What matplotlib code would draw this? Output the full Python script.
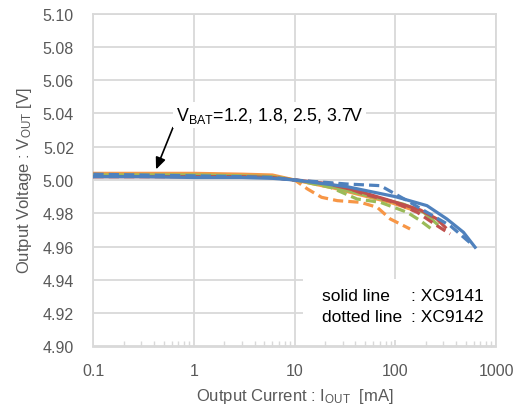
import matplotlib
matplotlib.use("Agg")
import matplotlib.pyplot as plt
from matplotlib.patches import Rectangle
from matplotlib.ticker import FixedLocator, FixedFormatter, LogLocator, NullFormatter

plt.rcParams['font.family'] = ['Liberation Sans', 'DejaVu Sans']
plt.rcParams['mathtext.fontset'] = 'custom'
plt.rcParams['mathtext.rm'] = 'Liberation Sans'
plt.rcParams['mathtext.it'] = 'Liberation Sans:italic'

# ---- data ----
# XC9141 (solid)
i_solid_orange = [0.1, 0.3, 1, 3, 6, 10, 15.5, 25, 48, 90, 150]
v_solid_orange = [5.004, 5.004, 5.004, 5.0035, 5.003, 5.000, 4.9976, 4.995, 4.9906, 4.9865, 4.982]
i_solid_green = [0.1, 0.3, 1, 3, 6, 10, 20, 60, 120, 191, 259]
v_solid_green = [5.003, 5.003, 5.003, 5.0025, 5.002, 5.000, 4.997, 4.9898, 4.9855, 4.9806, 4.9736]
i_solid_red = [0.1, 0.3, 1, 3, 6, 10, 20, 41.6, 89, 177, 259, 313]
v_solid_red = [5.002, 5.002, 5.002, 5.002, 5.0015, 5.000, 4.998, 4.9936, 4.9876, 4.982, 4.9766, 4.9716]
i_solid_blue = [0.1, 0.3, 1, 3, 6, 10, 33, 100, 206, 325, 475, 620]
v_solid_blue = [5.002, 5.002, 5.0015, 5.0015, 5.001, 5.000, 4.996, 4.990, 4.9846, 4.9766, 4.9686, 4.9596]

# XC9142 (dotted)
i_dash_orange = [0.1, 0.3, 1, 3, 6, 10, 13.4, 18.5, 26.5, 45, 66, 89, 140]
v_dash_orange = [5.003, 5.003, 5.003, 5.003, 5.002, 5.000, 4.9946, 4.9896, 4.9876, 4.9866, 4.9836, 4.9766, 4.9706]
i_dash_green = [0.1, 0.3, 1, 3, 6, 10, 22.7, 41.6, 71, 131, 177, 240]
v_dash_green = [5.003, 5.003, 5.003, 5.0025, 5.002, 5.000, 4.9956, 4.9886, 4.9866, 4.9806, 4.9756, 4.9696]
i_dash_red = [0.1, 0.3, 1, 3, 6, 10, 26.5, 48.5, 98, 165, 259, 350]
v_dash_red = [5.002, 5.002, 5.002, 5.002, 5.0015, 5.000, 4.9976, 4.9916, 4.9866, 4.9806, 4.9726, 4.9676]
i_dash_blue = [0.1, 0.3, 1, 3, 6, 10, 33, 71, 131, 206, 350, 595]
v_dash_blue = [5.0035, 5.003, 5.0025, 5.002, 5.0015, 5.000, 4.9976, 4.9966, 4.9876, 4.9806, 4.9726, 4.9606]

x_ticks = [0.1, 1, 10, 100, 1000]
x_tick_labels = ['0.1', '1', '10', '100', '1000']
y_ticks = [4.90, 4.92, 4.94, 4.96, 4.98, 5.00, 5.02, 5.04, 5.06, 5.08, 5.10]

BLUE = '#4F81BD'
RED = '#C0504D'
GREEN = '#9BBB59'
ORANGE = '#F79646'

W, H = 521, 410
fig = plt.figure(figsize=(W / 100, H / 100), dpi=100)
L, R, T, B = 93.4, 496, 14.5, 347.5
ax = fig.add_axes([L / W, 1 - B / H, (R - L) / W, (B - T) / H])

lw = 2.3
dash = (0, (3.2, 1.6))
ax.plot(i_solid_orange, v_solid_orange, color=ORANGE, lw=lw, zorder=3)
ax.plot(i_solid_green, v_solid_green, color=GREEN, lw=lw, zorder=3)
ax.plot(i_solid_red, v_solid_red, color=RED, lw=lw, zorder=3)
ax.plot(i_dash_orange, v_dash_orange, color=ORANGE, lw=lw, ls=dash, zorder=3)
ax.plot(i_dash_green, v_dash_green, color=GREEN, lw=lw, ls=dash, zorder=3)
ax.plot(i_dash_red, v_dash_red, color=RED, lw=lw, ls=dash, zorder=3)
ax.plot(i_solid_blue, v_solid_blue, color=BLUE, lw=lw, zorder=3)
ax.plot(i_dash_blue, v_dash_blue, color=BLUE, lw=lw, ls=dash, zorder=3)

ax.set_xscale('log')
ax.set_xlim(0.1, 1000)
ax.set_ylim(4.90, 5.10)
ax.xaxis.set_major_locator(FixedLocator(x_ticks))
ax.xaxis.set_major_formatter(FixedFormatter(x_tick_labels))
ax.xaxis.set_minor_locator(LogLocator(base=10, subs=range(2, 10)))
ax.xaxis.set_minor_formatter(NullFormatter())
ax.set_yticks(y_ticks)
ax.set_yticklabels([f'{v:.2f}' for v in y_ticks])

gc = '#D9D9D9'
ax.set_axisbelow(True)
ax.grid(True, which='major', color=gc, lw=1.3, zorder=0)
for s in ax.spines.values():
    s.set_color(gc)
    s.set_linewidth(1.3)
ax.tick_params(axis='both', which='major', length=0, labelsize=11.5, colors='#595959')
ax.tick_params(axis='x', which='major', pad=12)
ax.tick_params(axis='y', which='major', pad=14)
ax.tick_params(axis='x', which='minor', direction='in', length=4, width=1, color=gc)

ax.set_xlabel(r'Output Current : I$_{\mathrm{OUT}}$  [mA]', fontsize=12, color='#595959', labelpad=6)
ax.set_ylabel(r'Output Voltage : V$_{\mathrm{OUT}}$ [V]', fontsize=12, color='#595959', labelpad=6)

def fx(px):
    return px / W

def fy(py):
    return 1 - py / H

# legend-like white box
ax.add_patch(Rectangle((fx(303), fy(341)), fx(495) - fx(303), fy(280) - fy(341),
                       transform=fig.transFigure, facecolor='white', edgecolor='none', zorder=1))
fig.text(fx(322), fy(297), 'solid line', fontsize=12.5, va='center', ha='left', color='black')
fig.text(fx(411), fy(297), ': XC9141', fontsize=12.5, va='center', ha='left', color='black')
fig.text(fx(322), fy(318), 'dotted line', fontsize=12.5, va='center', ha='left', color='black')
fig.text(fx(411), fy(318), ': XC9142', fontsize=12.5, va='center', ha='left', color='black')

# annotation
fig.text(fx(176), fy(116), r'V$_{\mathrm{BAT}}$=1.2, 1.8, 2.5, 3.7V', fontsize=12.8, va='center',
         ha='left', color='black',
         bbox=dict(facecolor='white', edgecolor='none', pad=2))
ax.annotate('', xy=(fx(155), fy(173)), xytext=(fx(174), fy(126)),
            xycoords='figure fraction', textcoords='figure fraction',
            arrowprops=dict(arrowstyle='-|>,head_length=0.7,head_width=0.3', color='black', lw=1.2),
            zorder=5)

fig.savefig('out.png', dpi=100)
